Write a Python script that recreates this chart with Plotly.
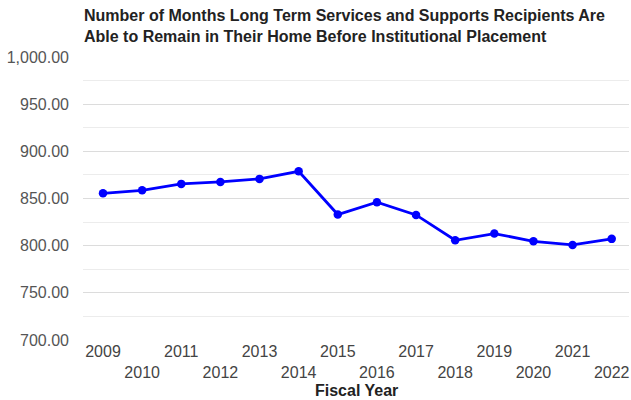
import plotly.graph_objects as go

years = ["2009", "2010", "2011", "2012", "2013", "2014", "2015",
         "2016", "2017", "2018", "2019", "2020", "2021", "2022"]
months = [855.5, 858.7, 865.5, 867.6, 870.8, 878.8, 833.0,
          846.0, 832.6, 805.7, 812.8, 804.6, 800.8, 807.2]
tick_text = [y if i % 2 == 0 else "<br>" + y for i, y in enumerate(years)]
y_ticks = [700, 750, 800, 850, 900, 950, 1000]

FONT = "Arial, Liberation Sans, sans-serif"

fig = go.Figure()
fig.add_trace(go.Scatter(
    x=list(range(len(years))), y=months, mode="lines+markers",
    line=dict(color="#0000ff", width=2.8),
    marker=dict(color="#0000ff", size=8.5),
    hoverinfo="skip", showlegend=False,
))

L, R, T, B = 83, 2, 57, 60
fig.update_layout(
    width=631, height=400,
    margin=dict(l=L, r=R, t=T, b=B),
    paper_bgcolor="white", plot_bgcolor="white",
    font=dict(family=FONT, color="#444"),
    xaxis=dict(
        range=[-0.511, 13.442], tickmode="array",
        tickvals=list(range(len(years))), ticktext=tick_text,
        showgrid=False, zeroline=False, showline=False,
        ticks="", tickfont=dict(size=16, color="#444"),
        automargin=False, ticklabelstandoff=0,
    ),
    yaxis=dict(
        range=[700, 1000], tickmode="array", tickvals=y_ticks,
        tickformat=",.2f", showgrid=True, gridcolor="#dcdcdc", gridwidth=1,
        zeroline=False, showline=False, ticks="",
        tickfont=dict(size=16, color="#555"),
        minor=dict(dtick=25, tick0=700, showgrid=True, gridcolor="#ececec"),
        automargin=False, ticklabelstandoff=13,
    ),
    annotations=[
        dict(
            text="Number of Months Long Term Services and Supports Recipients Are<br>"
                 "Able to Remain in Their Home Before Institutional Placement",
            x=0, y=1, xref="paper", yref="paper", xanchor="left", yanchor="top",
            align="left", yshift=51, showarrow=False, borderpad=0,
            font=dict(family=FONT, size=16, color="#222", weight="bold"),
        ),
        dict(
            text="Fiscal Year", x=0.5, y=0, xref="paper", yref="paper",
            yanchor="top", yshift=-41, showarrow=False, borderpad=0,
            font=dict(family=FONT, size=16, color="#222", weight="bold"),
        ),
    ],
)

fig.write_html("out.html", config={"displayModeBar": False},
               post_script="document.body.style.margin='0';")
